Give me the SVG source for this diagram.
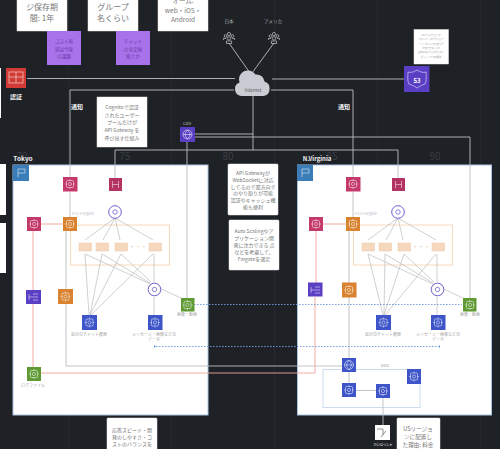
<svg xmlns="http://www.w3.org/2000/svg" xmlns:xlink="http://www.w3.org/1999/xlink" width="500" height="449" viewBox="0 0 500 449">
<style>
text{font-family:"Noto Sans CJK JP","Noto Sans",sans-serif;text-anchor:middle}
.note{fill:#fff;stroke:#e8e8e8;stroke-width:.5}
.nt{font-size:5px;fill:#777}
.nt8{font-size:8px;fill:#777}
.pu{font-size:4.600px;fill:#6a3aa8}
.lb{font-size:4px;fill:#a5a5a5}
.wl{font-size:6.500px;fill:#f2f2f2;font-weight:700}
.gn{font-size:10px;fill:#3a3e44}
.c{fill:none;stroke:#bdbdbd;stroke-width:.9}
.cd{fill:none;stroke:#bcbcbc;stroke-width:.7}
.r{fill:none;stroke:#f2a39c;stroke-width:.9}
.d{fill:none;stroke:#6f9bdc;stroke-width:.9;stroke-dasharray:1.600 1.400}
.g{fill:none;stroke:#fff;stroke-width:.6;stroke-opacity:.85}
.region{fill:#fff;stroke:#a8c4e4;stroke-width:1}
.pink{fill:#c4386a}.orange{fill:#d9822f}.purple{fill:#5a3fc4}.blue{fill:#3d55c8}.green{fill:#5f9a35}.red{fill:#d23b35}
</style>
<defs>
<g id="glyph"><rect x="3.500" y="3.500" width="7" height="7" rx="1" class="g"/><circle cx="7" cy="7" r="1.600" class="g"/><path d="M3.500 7H2M10.500 7H12M7 3.500V2M7 10.500V12" class="g"/></g>
<g id="people"><circle cx="0" cy="-3" r="1.600" class="g"/><circle cx="-3.400" cy="-1" r="1.400" class="g"/><circle cx="3.400" cy="-1" r="1.400" class="g"/><circle cx="0" cy="1.400" r="1.700" class="g"/><path d="M-2.600 6.500v-2.500h5.200v2.500z" class="g"/><path d="M-5.600 3v-1.600h2.600M5.600 3v-1.600h-2.600" class="g"/></g>
<g id="ring"><circle cx="0" cy="0" r="6.300" fill="#fff" stroke="#6b62d0" stroke-width="1"/><circle cx="0" cy="0" r="2.200" fill="none" stroke="#6b62d0" stroke-width=".8"/></g>
<rect id="task" width="12.500" height="8" fill="#f5d8bd" stroke="#ecc6a4" stroke-width=".5"/>
</defs>
<rect width="500" height="449" fill="#1e2126"/>
<g id="grid">
<path d="M68.500 0V449M171.500 0V449M274.500 0V449M377.500 0V449M480.500 0V449" stroke="#25282e" stroke-width="1"/>
<text x="22" y="160" class="gn">70</text><text x="125" y="160" class="gn">75</text><text x="228" y="160" class="gn">80</text><text x="332" y="160" class="gn">85</text><text x="435" y="160" class="gn">90</text>
</g>
<g id="tokyo-region"><rect x="13" y="165" width="195" height="250" class="region"/><text x="23" y="161" class="wl">Tokyo</text><rect x="13" y="165" width="16" height="16" fill="#3a7db8"/><path d="M18 177V169h7v4h-7" class="g"/></g>
<g id="virginia-region"><rect x="297.500" y="165" width="194" height="250" class="region"/><text x="317" y="161" class="wl" style="font-size:6px">N.Virginia</text><rect x="297" y="165" width="16" height="16" fill="#3a7db8"/><path d="M302 177V169h7v4h-7" class="g"/></g>
<g id="ecs-tokyo-box"><rect x="70.500" y="225" width="99" height="40" fill="none" stroke="#f7d9bd" stroke-width="1"/></g>
<g id="ecs-virginia-box"><rect x="353.500" y="225" width="99" height="40" fill="none" stroke="#f7d9bd" stroke-width="1"/></g>
<g id="vpc-box"><rect x="323" y="369.500" width="97" height="38" fill="none" stroke="#ccdcf0" stroke-width="1"/></g>
<g id="connectors">
<path class="c" d="M27 78.500H235M272 79H404M234 90H70V178M271 90H353V178M194 134H253V96M194 137H470V298M187 142V298M253 134V150M115 150H398M115 150V178M398 150V178M70 192V217M353 192V217M229 43L250 73M274 43L252 73"/>
<path class="c" d="M66 231V289M349 231V283M66 304V366H342M349 297V358M349 372V383M356 390.500H376M383 397V425"/>
<path class="cd" d="M115 218L85 240M115 218L103 240M115 218L120 240M115 218L153 240M85 254L89 315M102 254L90 315M121 254L90 315M153 254L91 315M85 254L181 298M102 254L150 283M121 254L151 282M154 254V282M154 297V315"/>
<path class="cd" d="M398 218L368 240M398 218L386 240M398 218L403 240M398 218L436 240M368 254L383 315M385 254L384 315M404 254L384 315M436 254L385 315M368 254L463 298M385 254L433 283M404 254L434 282M437 254V282M437 297V315"/>
<path class="r" d="M41 224H63M33 231V290M33 304V367M41 373H315V297M323 224H346M316 231V283"/>
<path class="d" d="M194 304.500H462M156 346.500H438"/>
<path d="M154 345l2 1.500-2 1.500zM440 345l-2 1.500 2 1.500z" fill="#6f9bdc"/>
</g>
<g id="note-retention"><rect x="17" y="-2" width="50" height="33" class="note"/><text class="nt8" x="42" y="9.500">ジ保存期</text><text class="nt8" x="42" y="20.500">間: 1年</text></g>
<g id="note-group"><rect x="88" y="-2" width="50" height="33" class="note"/><text class="nt8" x="113" y="9.500">グループ</text><text class="nt8" x="113" y="20.500">名くらい</text></g>
<g id="note-platform"><rect x="158" y="-2" width="50" height="33" class="note"/><text class="nt" style="font-size:6.500px" x="183" y="3">オーム:</text><text class="nt" style="font-size:6.500px" x="183" y="13">web・iOS・</text><text class="nt" style="font-size:6.500px" x="183" y="22">Android</text></g>
<g id="sticky-cost"><rect x="47" y="31" width="34" height="34" fill="#a872ea"/><text class="pu" x="64" y="43">コスト削</text><text class="pu" x="64" y="50.500">減は今後</text><text class="pu" x="64" y="58">の課題</text></g>
<g id="sticky-search"><rect x="116" y="31" width="34" height="34" fill="#a872ea"/><text class="pu" x="133" y="43">チャット</text><text class="pu" x="133" y="50.500">の全文検</text><text class="pu" x="133" y="58">索とか</text></g>
<g id="left-edge-notes"><rect x="0" y="68" width="1" height="50" fill="#fff"/><rect x="0" y="164" width="6" height="51" fill="#fff"/><rect x="0" y="223" width="6" height="50" fill="#fff"/></g>
<g id="auth"><rect x="6" y="68" width="20" height="20" class="red"/><rect x="9" y="72" width="14" height="11" class="g"/><path d="M16 72v11M9 77h14" class="g"/><text x="16" y="99" style="font-size:6px;fill:#eee;font-weight:700">認証</text></g>
<g id="internet"><path d="M241 96a7 7 0 0 1-1.500-13.500a9 9 0 0 1 16-8a8 8 0 0 1 9 7a7.500 7.500 0 0 1-1 14.500z" fill="#c9ccd2"/><text x="253" y="92" style="font-size:4.500px;fill:#555">Internet</text></g>
<g id="japan"><text x="229" y="23" style="font-size:4.600px;fill:#aaa">日本</text><use xlink:href="#people" href="#people" transform="translate(229 37)"/></g>
<g id="america"><text x="273" y="23" style="font-size:4.600px;fill:#aaa">アメリカ</text><use xlink:href="#people" href="#people" transform="translate(274 37)"/></g>
<g id="route53"><rect x="404" y="66" width="25.500" height="26" fill="#5a3fc4"/><path d="M408 72c3 1 6 0 9-2c3 2 6 3 9 2c0 4 1 8-1 12c-3 1-5 2-8 4c-3-2-5-3-8-4c-2-4-1-8-1-12z" class="g"/><text x="417" y="83" style="font-size:6px;fill:#fff;font-weight:700">53</text></g>
<g id="note-route53"><rect x="414" y="29.500" width="34.500" height="34.500" class="note"/><text class="lb" style="font-size:2.300px" x="431" y="36">USでも東や東ナダ</text><text class="lb" style="font-size:2.300px" x="431" y="40">でなくて、ログでも東ナ</text><text class="lb" style="font-size:2.300px" x="431" y="45">ーリングにも切り替え可</text><text class="lb" style="font-size:2.300px" x="431" y="49">切替できる。API</text><text class="lb" style="font-size:2.300px" x="431" y="53">gatewayでも東京を切り</text><text class="lb" style="font-size:2.300px" x="431" y="58">ポイントで切替機能</text></g>
<g id="note-cognito"><rect x="97" y="97" width="50" height="50" class="note"/><text class="nt" x="122" y="109">Cognitoで認証</text><text class="nt" x="122" y="116.500">されたユーザー</text><text class="nt" x="122" y="124">プールだけが</text><text class="nt" x="122" y="132">API Gateway を</text><text class="nt" x="122" y="140">呼び出す仕組み</text></g>
<g id="cdn"><text x="187" y="125" class="lb" style="fill:#bbb">CDN</text><rect x="180" y="127" width="15" height="15" class="purple"/><circle cx="187.500" cy="134.500" r="4.500" class="g"/><path d="M183 134.500h9M187.500 130c-3 3-3 6 0 9c3-3 3-6 0-9" class="g"/></g>
<g id="note-apigw"><rect x="228" y="164" width="50" height="51" rx="1" class="note"/><text class="nt" x="253" y="175">API Gatewayが</text><text class="nt" x="253" y="182">WebSocketに対応</text><text class="nt" x="253" y="188.500">してるので双方向で</text><text class="nt" x="253" y="195">のやり取りが可能</text><text class="nt" x="253" y="202">認証やキャッシュ機</text><text class="nt" x="253" y="208.500">能も便利</text></g>
<g id="note-autoscaling"><rect x="229" y="220" width="50" height="50" rx="1" class="note"/><text class="nt" x="254" y="233">Auto Scalingやア</text><text class="nt" x="254" y="240">プリケーション開</text><text class="nt" x="254" y="247">発に注力できる 点</text><text class="nt" x="254" y="254">などを考慮して、</text><text class="nt" x="254" y="261">Fargateを選定</text></g>
<g id="note-speed"><rect x="107" y="418" width="50" height="34" rx="1" class="note"/><text class="nt" x="132" y="431.500">応答スピード・開</text><text class="nt" x="132" y="439">発のしやすさ・コ</text><text class="nt" x="132" y="446">ストのバランスを</text></g>
<g id="note-us"><rect x="397" y="418" width="43" height="34" rx="1" class="note"/><text class="nt" style="font-size:5.600px" x="418" y="431">USリージョ</text><text class="nt" style="font-size:5.600px" x="418" y="439">ンに配置し</text><text class="nt" style="font-size:5.600px" x="418" y="447">た理由: 料金</text></g>
<text x="77" y="108.500" class="wl" style="font-size:6px">通知</text><text x="344" y="108.500" class="wl" style="font-size:6px">通知</text>
<g id="t-apigw"><rect x="63" y="177" width="14.500" height="14.500" class="pink"/><use xlink:href="#glyph" href="#glyph" transform="translate(63 177)"/></g>
<g id="t-appsync"><rect x="109" y="178" width="13" height="13" class="pink" style="fill:#b33462"/><path d="M112.500 181v7M118.500 181v7M112.500 184.500h6" class="g"/></g>
<g id="t-alb"><use xlink:href="#ring" href="#ring" transform="translate(115 212)"/></g>
<text x="83" y="215" class="lb" style="fill:#bcc3ca">ECS Fargate</text>
<g id="t-cloudwatch"><rect x="27" y="217" width="14" height="14" class="pink"/><use xlink:href="#glyph" href="#glyph" transform="translate(27 217)"/></g>
<g id="t-ecs"><rect x="63" y="217" width="14" height="14" class="orange"/><use xlink:href="#glyph" href="#glyph" transform="translate(63 217)"/></g>
<g id="t-tasks"><use xlink:href="#task" href="#task" x="79" y="243"/><use xlink:href="#task" href="#task" x="96" y="243"/><use xlink:href="#task" href="#task" x="115" y="243"/><use xlink:href="#task" href="#task" x="149" y="243"/><text x="138" y="249" style="font-size:6px;fill:#e0c4a8">・・・</text></g>
<g id="t-firehose"><rect x="26" y="290" width="15" height="14" class="purple"/><path d="M29 297h9M29 294v6M33 294h5M33 300h5" class="g"/></g>
<g id="t-lambda"><rect x="58" y="289" width="15" height="15" class="orange"/><use xlink:href="#glyph" href="#glyph" transform="translate(58.500 289.500)"/></g>
<g id="t-waf"><use xlink:href="#ring" href="#ring" transform="translate(154.500 289.500)"/></g>
<g id="t-media"><rect x="181" y="298" width="13.500" height="13.500" class="green"/><use xlink:href="#glyph" href="#glyph" transform="translate(180.500 298)"/><text x="187" y="316" class="lb">画像・動画</text></g>
<g id="t-history"><rect x="82" y="315" width="15" height="15" class="blue"/><use xlink:href="#glyph" href="#glyph" transform="translate(82.500 315.500)"/><text x="89" y="336" class="lb">直近のチャット履歴</text></g>
<g id="t-messages"><rect x="148" y="315" width="14.500" height="15" class="blue"/><use xlink:href="#glyph" href="#glyph" transform="translate(148 315.500)"/><text x="154" y="336" class="lb">メッセージ・画像などの</text><text x="154" y="341" class="lb">データ</text></g>
<g id="t-logs"><rect x="27" y="367" width="14" height="14" class="green"/><use xlink:href="#glyph" href="#glyph" transform="translate(27 367)"/><text x="33" y="387" class="lb">ログファイル</text></g>
<g id="v-apigw"><rect x="346" y="177" width="14.500" height="14.500" class="pink"/><use xlink:href="#glyph" href="#glyph" transform="translate(346 177)"/></g>
<g id="v-appsync"><rect x="392" y="178" width="13" height="13" class="pink" style="fill:#b33462"/><path d="M395.500 181v7M401.500 181v7M395.500 184.500h6" class="g"/></g>
<g id="v-alb"><use xlink:href="#ring" href="#ring" transform="translate(398 212)"/></g>
<text x="366" y="215" class="lb" style="fill:#bcc3ca">ECS Fargate</text>
<g id="v-cloudwatch"><rect x="309" y="217" width="14" height="14" class="pink"/><use xlink:href="#glyph" href="#glyph" transform="translate(309 217)"/></g>
<g id="v-ecs"><rect x="346" y="217" width="14" height="14" class="orange"/><use xlink:href="#glyph" href="#glyph" transform="translate(346 217)"/></g>
<g id="v-tasks"><use xlink:href="#task" href="#task" x="362" y="243"/><use xlink:href="#task" href="#task" x="379" y="243"/><use xlink:href="#task" href="#task" x="398" y="243"/><use xlink:href="#task" href="#task" x="432" y="243"/><text x="421" y="249" style="font-size:6px;fill:#e0c4a8">・・・</text></g>
<g id="v-firehose"><rect x="308" y="282.500" width="14.500" height="14" class="purple"/><path d="M311 290h9M311 287v6M315 287h5M315 293h5" class="g"/></g>
<g id="v-lambda"><rect x="342" y="282.500" width="14.500" height="15" class="orange"/><use xlink:href="#glyph" href="#glyph" transform="translate(342 283)"/></g>
<g id="v-waf"><use xlink:href="#ring" href="#ring" transform="translate(437.500 289.500)"/></g>
<g id="v-media"><rect x="463" y="298" width="13.500" height="13.500" class="green"/><use xlink:href="#glyph" href="#glyph" transform="translate(463 298)"/><text x="470" y="316" class="lb">画像・動画</text></g>
<g id="v-history"><rect x="376" y="315" width="15" height="15" class="blue"/><use xlink:href="#glyph" href="#glyph" transform="translate(376.500 315.500)"/><text x="383" y="336" class="lb">直近のチャット履歴</text></g>
<g id="v-messages"><rect x="431" y="315" width="14.500" height="15" class="blue"/><use xlink:href="#glyph" href="#glyph" transform="translate(431 315.500)"/><text x="438" y="336" class="lb">メッセージ・画像などの</text><text x="438" y="341" class="lb">データ</text></g>
<g id="cdn2"><rect x="342" y="358" width="14" height="14" class="blue"/><circle cx="349" cy="365" r="4.500" class="g"/><path d="M344.500 365h9M349 360.500c-3 3-3 6 0 9c3-3 3-6 0-9" class="g"/></g>
<g id="vpc-label"><text x="385" y="367" class="lb">DDD</text></g>
<g id="vpc-a"><rect x="342" y="383" width="14" height="14" class="blue"/><use xlink:href="#glyph" href="#glyph" transform="translate(342 383)"/></g>
<g id="vpc-b"><rect x="376" y="384" width="14" height="14" class="blue"/><use xlink:href="#glyph" href="#glyph" transform="translate(376 384)"/></g>
<g id="vpc-c"><rect x="407" y="369" width="14" height="15" class="blue"/><use xlink:href="#glyph" href="#glyph" transform="translate(407 369.500)"/></g>
<g id="devs"><rect x="375" y="425" width="15" height="15" fill="#fff"/><path d="M377 429h6v6M381 437l5-6" fill="none" stroke="#666" stroke-width=".7"/><text x="383" y="446" style="font-size:3.200px;fill:#eee">かいはつしゃ</text></g>
</svg>
